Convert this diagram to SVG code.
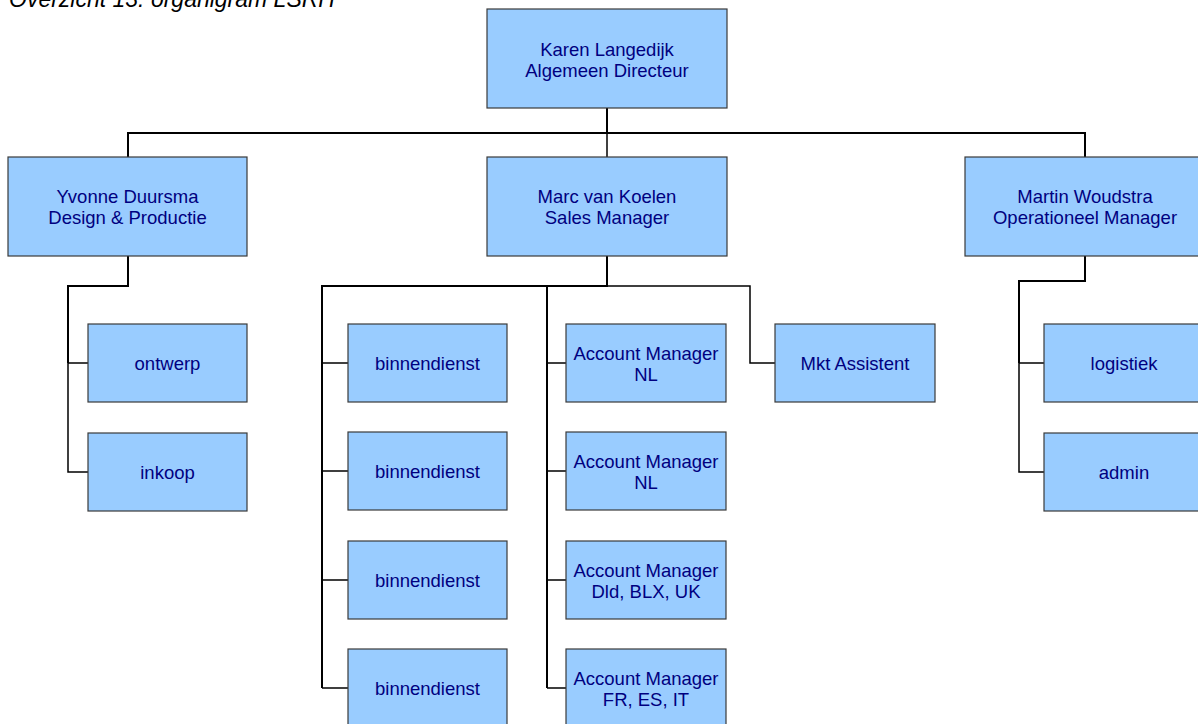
<svg xmlns="http://www.w3.org/2000/svg" width="1198" height="724" viewBox="0 0 1198 724">
<style>
.box{fill:#99ccff;stroke:#3a3a3a;stroke-width:1.2}
.t{font-family:"Liberation Sans",Arial,sans-serif;font-size:18.5px;fill:#000080;text-anchor:middle}
.title{font-family:"Liberation Sans",Arial,sans-serif;font-size:23px;font-style:italic;fill:#000}
.c{fill:none;stroke:#000;stroke-width:2}
.c2{fill:none;stroke:#000;stroke-width:1.5}
</style>
<rect width="1198" height="724" fill="#fff"/>
<text class="title" x="9" y="7">Overzicht 13: organigram LSRH</text>
<g id="connectors">
<path class="c" d="M607 108V133M128 157V133H1085V157"/>
<path class="c2" d="M607 133V157"/>
<path class="c" d="M128 256V286H68V363"/>
<path class="c2" d="M68 363H88M68 363V472H88"/>
<path class="c" d="M1085 256V281H1019V363"/>
<path class="c2" d="M1019 363H1044M1019 363V472H1044"/>
<path class="c" d="M607 256V286H322V688M547 286V688"/>
<path class="c2" d="M607 286H750V363H775"/>
<path class="c2" d="M322 363H348M322 471H348M322 580H348M322 688H348"/>
<path class="c2" d="M547 363H566M547 471H566M547 580H566M547 688H566"/>
</g>
<g id="karen"><rect class="box" x="487" y="9" width="240" height="99"/><text class="t" x="607" y="56">Karen Langedijk</text><text class="t" x="607" y="77">Algemeen Directeur</text></g>
<g id="yvonne"><rect class="box" x="8" y="157" width="239" height="99"/><text class="t" x="127.5" y="203">Yvonne Duursma</text><text class="t" x="127.5" y="224">Design &amp; Productie</text></g>
<g id="marc"><rect class="box" x="487" y="157" width="240" height="99"/><text class="t" x="607" y="203">Marc van Koelen</text><text class="t" x="607" y="224">Sales Manager</text></g>
<g id="martin"><rect class="box" x="965" y="157" width="240" height="99"/><text class="t" x="1085" y="203">Martin Woudstra</text><text class="t" x="1085" y="224">Operationeel Manager</text></g>
<g id="ontwerp"><rect class="box" x="88" y="324" width="159" height="78"/><text class="t" x="167.5" y="369.5">ontwerp</text></g>
<g id="inkoop"><rect class="box" x="88" y="433" width="159" height="78"/><text class="t" x="167.5" y="478.5">inkoop</text></g>
<g id="binnendienst1"><rect class="box" x="348" y="324" width="159" height="78"/><text class="t" x="427.5" y="369.5">binnendienst</text></g>
<g id="binnendienst2"><rect class="box" x="348" y="432" width="159" height="78"/><text class="t" x="427.5" y="477.5">binnendienst</text></g>
<g id="binnendienst3"><rect class="box" x="348" y="541" width="159" height="78"/><text class="t" x="427.5" y="586.5">binnendienst</text></g>
<g id="binnendienst4"><rect class="box" x="348" y="649" width="159" height="78"/><text class="t" x="427.5" y="694.5">binnendienst</text></g>
<g id="am1"><rect class="box" x="566" y="324" width="160" height="78"/><text class="t" x="646" y="360">Account Manager</text><text class="t" x="646" y="381">NL</text></g>
<g id="am2"><rect class="box" x="566" y="432" width="160" height="78"/><text class="t" x="646" y="468">Account Manager</text><text class="t" x="646" y="489">NL</text></g>
<g id="am3"><rect class="box" x="566" y="541" width="160" height="78"/><text class="t" x="646" y="577">Account Manager</text><text class="t" x="646" y="598">Dld, BLX, UK</text></g>
<g id="am4"><rect class="box" x="566" y="649" width="160" height="78"/><text class="t" x="646" y="685">Account Manager</text><text class="t" x="646" y="706">FR, ES, IT</text></g>
<g id="mkt"><rect class="box" x="775" y="324" width="160" height="78"/><text class="t" x="855" y="369.5">Mkt Assistent</text></g>
<g id="logistiek"><rect class="box" x="1044" y="324" width="160" height="78"/><text class="t" x="1124" y="369.5">logistiek</text></g>
<g id="admin"><rect class="box" x="1044" y="433" width="160" height="78"/><text class="t" x="1124" y="478.5">admin</text></g>
</svg>
